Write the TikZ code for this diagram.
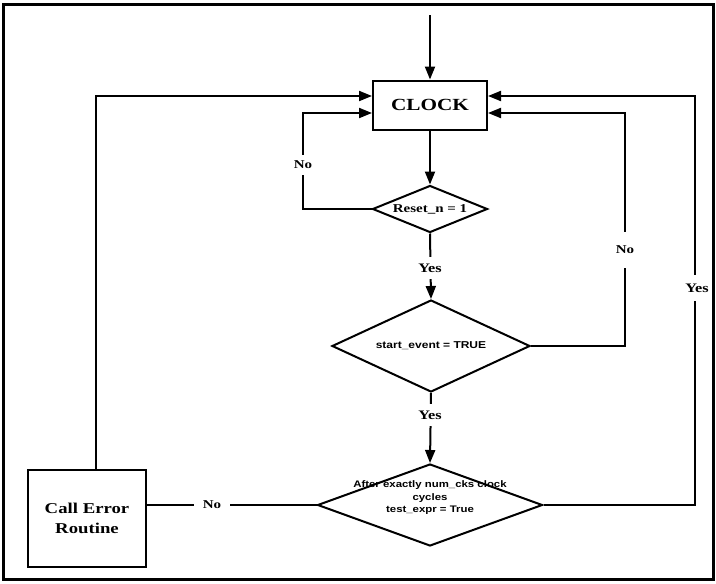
\documentclass[tikz,border=0pt]{standalone}
\usepackage{fontspec}
\setmainfont{Liberation Serif}[FakeStretch=1.25]
\newfontfamily\sansf{Liberation Sans}[FakeStretch=1.2]
\usetikzlibrary{shapes.geometric, arrows.meta}

\begin{document}
\begin{tikzpicture}[x=1pt, y=-1pt, font=\bfseries,
  >={Triangle[length=13pt, width=10pt]},
  bx/.style={draw, line width=2pt, align=center, inner sep=2pt},
  dmd/.style={draw, diamond, line width=2pt, inner sep=0pt},
  txt/.style={align=center, inner sep=0pt},
  lbl/.style={fill=white, inner sep=3pt, font=\fontsize{12}{14}\selectfont\bfseries},
  s/.style={->, line width=2pt},
  ln/.style={line width=2pt}]
\useasboundingbox (0,0) rectangle (716,584);
\draw[line width=3pt] (3,4) rectangle (713,579);
% main column
\coordinate (top) at (430,15);
\node[bx, minimum width=114pt, minimum height=49pt, font=\fontsize{17}{20}\selectfont\bfseries] (clock) at (430,105) {CLOCK};
\node[dmd, minimum width=115pt, minimum height=47pt] (reset) at (430,209) {};
\node[txt, font=\fontsize{12}{14}\selectfont\bfseries] (resettxt) at (reset) {Reset\_n = 1};
\node[dmd, minimum width=198pt, minimum height=92pt] (start) at (431,346) {};
\node[txt, font=\sansf\fontsize{10}{12}\selectfont\bfseries] (starttxt) at (start) {start\_event = TRUE};
\node[dmd, minimum width=225pt, minimum height=82pt] (check) at (430,505) {};
\node[txt, font=\sansf\fontsize{9.5}{12.5}\selectfont\bfseries] (checktxt) at (430,498)
  {After exactly num\_cks clock\\cycles\\test\_expr = True};
% error routine (left)
\node[bx, minimum width=118pt, minimum height=97pt, font=\fontsize{15}{20}\selectfont\bfseries] (err) at (87,518) {Call Error\\Routine};
% connectors
\draw[s] (top) -- (clock.north);
\draw[s] (clock.south) -- (reset.north);
\draw[s] (reset.south) -- (start.north);
\draw[s] (start.south) -- (check.north);
\draw[s] (reset.west) -| (303,113) -- ([yshift=-8pt]clock.west);
\draw[s] (start.east) -| (625,113) -- ([yshift=-8pt]clock.east);
\draw[s] (check.east) -| (695,96) -- ([yshift=9pt]clock.east);
\draw[s] ([xshift=9pt]err.north) |- ([yshift=9pt]clock.west);
\draw[ln] (check.west) -- (check.west -| err.east);
% labels on the lines
\node[lbl, inner ysep=6pt] (no1) at (303,165) {No};
\node[lbl, font=\fontsize{13}{15}\selectfont\bfseries, inner ysep=7pt] (yes1) at (430,268) {Yes};
\node[lbl, inner ysep=14pt] (no2) at (625,250) {No};
\node[lbl, font=\fontsize{13}{15}\selectfont\bfseries, inner ysep=9pt] (yes3) at (697,288) {Yes};
\node[lbl, font=\fontsize{13}{15}\selectfont\bfseries, inner ysep=7pt] (yes2) at (430,415) {Yes};
\node[lbl, inner xsep=9pt] (no3) at (212,505) {No};
\end{tikzpicture}
\end{document}
